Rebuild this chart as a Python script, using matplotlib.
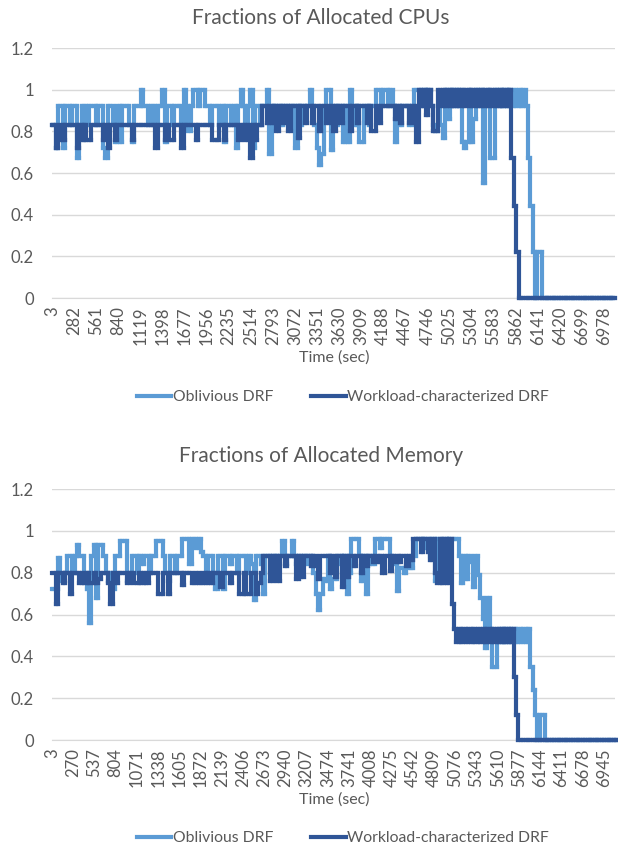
import numpy as np
import matplotlib
matplotlib.use("Agg")
import matplotlib.pyplot as plt
from matplotlib.lines import Line2D
from matplotlib.collections import LineCollection

plt.rcParams['font.family'] = ['Lato', 'DejaVu Sans']

# samples every 30 sec
time_sec = 3 + 30 * np.arange(238)

cpu_oblivious = [
    .83, .83, .72, .92, .92, .72, .92, .92, .83, .92, .92, .67, .83, .92, .92, .83, .92, .92, .92, .83,
    .92, .92, .72, .67, .92, .92, .83, .75, .92, .75, .92, .92, .92, .83, .75, .92, .92, .92, 1, .92,
    .92, .83, .92, .92, .83, .92, .92, 1, .75, .92, .92, .83, .92, .92, .92, .83, 1, .92, .8, .92,
    1, 1, .92, 1, 1, .92, .92, .83, .92, .92, .92, .83, .92, .75, .92, .92, .83, .92, .72, .92,
    1, .92, .83, .92, 1, .72, .92, .92, .83, .92, .92, 1, .69, .92, .83, .92, .92, .83, .92, .92,
    .83, .92, .92, .72, .92, .83, .92, .92, .92, 1, .92, .83, .72, .64, .69, .92, 1, 1, .71, .92,
    .83, .92, .92, .75, .92, .75, 1, .92, .83, .92, .75, .75, .92, .92, .83, .92, .92, 1, 1, .92,
    1, 1, .92, 1, .92, .75, .92, .83, .92, .92, .92, .83, .92, 1, 1, 1, .92, 1, .92, 1,
    .92, .83, .8, .92, .83, .77, 1, .86, 1, .92, 1, .92, 1, .75, .72, .75, 1, .75, .86, 1,
    .92, 1, .55, .92, 1, .67, .67, 1, .92, 1, .92, 1, .92, 1, .92, 1, .92, 1, .92, 1,
    .92, .67, .44, .22, 0, .22, .22] + [0] * 31

cpu_workload = [
    .83, .83, .72, .76, .83, .76, .83, .83, .83, .83, .83, .72, .83, .76, .83, .76, .76, .83, .83, .83,
    .83, .83, .76, .83, .72, .83, .83, .76, .83, .83, .83, .83, .83, .83, .76, .83, .83, .83, .83, .83,
    .83, .83, .83, .83, .72, .83, .83, .83, .76, .83, .76, .76, .83, .83, .83, .72, .83, .83, .83, .83,
    .83, .76, .83, .83, .83, .83, .83, .83, .76, .76, .76, .83, .83, .76, .83, .83, .83, .83, .83, .76,
    .83, .83, .76, .83, .67, .83, .76, .83, .83, .92, .92, .84, .92, .84, .92, .8, .92, .92, .84, .92,
    .8, .92, .92, .92, .77, .92, .92, .84, .92, .92, .84, .92, .92, .8, .92, .92, .84, .92, .92, .8,
    .92, .92, .84, .92, .92, .92, .8, .92, .92, .84, .92, .92, .92, .84, .92, .8, .8, .92, .84, .92,
    .92, .92, .92, .92, .92, .86, .92, .84, .92, .92, .92, .84, .92, .92, .75, 1, .92, 1, .88, 1,
    .92, .8, .8, 1, .92, 1, .92, 1, .92, 1, .92, 1, .92, 1, .92, 1, .92, 1, .92, 1,
    .92, 1, .92, 1, .92, 1, .92, 1, .92, 1, .92, 1, .92, 1, .67, .44, .22] + [0] * 41

mem_oblivious = [
    .72, .72, .72, .87, .76, .76, .8, .88, .88, .8, .88, .93, .88, .88, .8, .72, .56, .88, .93, .68,
    .93, .93, .88, .8, .76, .8, .72, .88, .88, .95, .95, .95, .76, .8, .88, .88, .8, .88, .84, .88,
    .88, .8, .88, .88, .95, .95, .95, .88, .8, .76, .88, .88, .8, .88, .88, .96, .96, .96, .84, .96,
    .96, .92, .96, .9, .88, .8, .88, .88, .8, .72, .88, .88, .72, .88, .88, .84, .88, .88, .8, .88,
    .88, .88, .8, .88, .84, .67, .88, .88, .84, .7, .88, .88, .8, .88, .84, .88, .88, .95, .84, .88,
    .88, .95, .88, .84, .88, .84, .88, .88, .84, .88, .8, .7, .62, .7, .77, .76, .88, .72, .77, .77,
    .84, .88, .8, .88, .7, .8, .96, .96, .96, .88, .76, .88, .7, .84, .88, .84, .96, .96, .92, .96,
    .96, .96, .88, .84, .84, .71, .82, .82, .8, .82, .82, .82, .88, .96, .96, .96, .92, .96, .96, .88,
    .96, .76, .96, .77, .88, .96, .76, .96, .96, .96, .96, .88, .75, .88, .77, .88, .85, .73, .88, .79,
    .68, .58, .44, .68, .53, .35, .35, .47, .53, .47, .53, .47, .53, .47, .53, .47, .53, .47, .53, .47,
    .53, .35, .24, .12, 0, .12, .12] + [0] * 31

mem_workload = [
    .8, .8, .65, .8, .8, .75, .8, .8, .7, .8, .8, .8, .75, .8, .75, .8, .75, .75, .8, .75,
    .77, .8, .8, .8, .75, .65, .8, .75, .8, .8, .8, .8, .75, .8, .8, .75, .75, .8, .75, .8,
    .75, .8, .8, .8, .8, .7, .7, .8, .8, .7, .8, .8, .8, .8, .8, .74, .8, .8, .8, .75,
    .75, .8, .75, .75, .8, .75, .8, .75, .8, .8, .8, .73, .8, .8, .8, .75, .8, .8, .8, .7,
    .7, .8, .7, .7, .8, .8, .7, .75, .8, .88, .88, .88, .76, .88, .88, .76, .88, .88, .83, .88,
    .88, .88, .88, .77, .88, .78, .88, .88, .88, .83, .88, .83, .77, .88, .88, .88, .88, .8, .88, .78,
    .88, .88, .73, .88, .78, .88, .88, .83, .88, .88, .8, .88, .83, .88, .88, .85, .88, .85, .88, .8,
    .88, .88, .81, .88, .85, .88, .85, .88, .88, .83, .88, .86, .96, .96, .96, .9, .96, .96, .9, .86,
    .96, .8, .75, .96, .75, .96, .75, .96, .65, .53, .47, .53, .47, .53, .47, .53, .47, .53, .47, .53,
    .47, .53, .47, .53, .47, .53, .47, .53, .47, .53, .47, .53, .47, .53, .3, .12] + [0] * 42

cpu_ticks = [3, 282, 561, 840, 1119, 1398, 1677, 1956, 2235, 2514, 2793, 3072, 3351,
             3630, 3909, 4188, 4467, 4746, 5025, 5304, 5583, 5862, 6141, 6420, 6699, 6978]
mem_ticks = [3, 270, 537, 804, 1071, 1338, 1605, 1872, 2139, 2406, 2673, 2940, 3207, 3474,
             3741, 4008, 4275, 4542, 4809, 5076, 5343, 5610, 5877, 6144, 6411, 6678, 6945]

y_ticks = [0, 0.2, 0.4, 0.6, 0.8, 1.0, 1.2]
y_labels = ['0', '0.2', '0.4', '0.6', '0.8', '1', '1.2']

light = '#5B9BD5'
dark = '#2F5597'
grey = '#595959'
lw = 3.0


def step_segments(x, y):
    # one piece per flat run and per jump, so dense back-and-forth stays solid
    x = np.asarray(x, float)
    y = np.asarray(y, float)
    edges = np.concatenate([[x[0]], (x[:-1] + x[1:]) / 2, [x[-1]]])
    segs = []
    for i in range(len(y)):
        segs.append([(edges[i], y[i]), (edges[i + 1], y[i])])
        if i < len(y) - 1 and y[i] != y[i + 1]:
            segs.append([(edges[i + 1], y[i]), (edges[i + 1], y[i + 1])])
    return segs


fig = plt.figure(figsize=(6.18, 8.5), dpi=100)
ax1 = fig.add_axes([0.0841, 0.6494, 0.911, 0.2941])
ax2 = fig.add_axes([0.0841, 0.1294, 0.911, 0.2953])

panels = [
    (ax1, cpu_oblivious, cpu_workload, cpu_ticks, 7117, 'Fractions of Allocated CPUs', 18, 358, 397),
    (ax2, mem_oblivious, mem_workload, mem_ticks, 7083, 'Fractions of Allocated Memory', 456, 800, 838),
]

for ax, obl, wl, ticks, xmax, title, ty, ly, gy in panels:
    for vals, col, z in [(obl, light, 2), (wl, dark, 3)]:
        lc = LineCollection(step_segments(time_sec, vals), colors=col, linewidths=lw,
                            capstyle='projecting', zorder=z, clip_on=False)
        ax.add_collection(lc)
    ax.set_xlim(3, xmax)
    ax.set_ylim(0, 1.2)
    ax.set_yticks(y_ticks)
    ax.set_yticklabels(y_labels)
    ax.set_xticks(ticks)
    ax.set_xticklabels([str(t) for t in ticks], rotation=90, va='top')
    ax.grid(axis='y', color='#D9D9D9', lw=1)
    ax.set_axisbelow(True)
    for s in ['top', 'right', 'left']:
        ax.spines[s].set_visible(False)
    ax.spines['bottom'].set_color('#D9D9D9')
    ax.tick_params(axis='both', length=0, labelsize=12, labelcolor=grey)
    ax.tick_params(axis='y', pad=13)
    ax.tick_params(axis='x', pad=6)
    fig.text(321 / 618, 1 - ty / 850, title, ha='center', va='center', fontsize=15, color=grey)
    fig.text(334 / 618, 1 - ly / 850, 'Time (sec)', ha='center', va='center', fontsize=11.5, color=grey)
    handles = [Line2D([], [], color=light, lw=lw), Line2D([], [], color=dark, lw=lw)]
    fig.legend(handles, ['Oblivious DRF', 'Workload-characterized DRF'], loc='center',
               bbox_to_anchor=(343 / 618, 1 - gy / 850), ncol=2, frameon=False,
               handlelength=2.2, handletextpad=0.1, columnspacing=2.4, fontsize=11.3,
               labelcolor=grey)

fig.savefig('out.png', dpi=100)
